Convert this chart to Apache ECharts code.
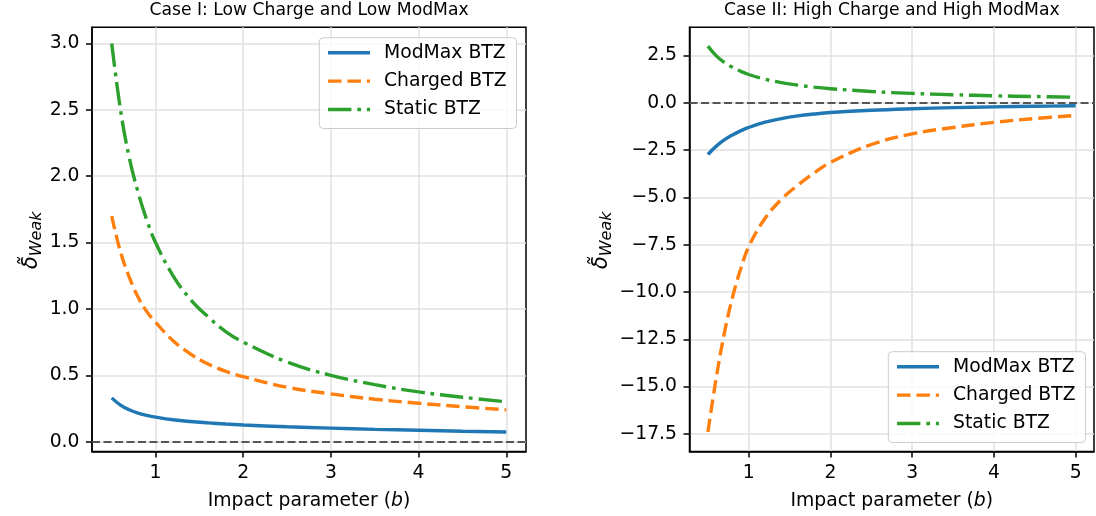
<!DOCTYPE html>
<html>
<head>
<meta charset="utf-8">
<script src="https://cdn.jsdelivr.net/npm/echarts@6.0.0/dist/echarts.min.js"></script>
<style>
  html, body { margin: 0; padding: 0; background: #fff; }
  #chart { width: 1096px; height: 516px; }
</style>
</head>
<body>
<div id="chart"></div>
<script>
// impact parameter samples
const impactB = [0.5, 0.6, 0.7, 0.8, 0.9, 1.0, 1.2, 1.4, 1.6, 1.8, 2.0, 2.5, 3.0, 3.5, 4.0, 4.5, 5.0];

// Case I: low charge, low ModMax
const modmaxLow  = [0.33, 0.275, 0.24, 0.215, 0.198, 0.185, 0.165, 0.152, 0.142, 0.133, 0.126, 0.112, 0.102, 0.093, 0.086, 0.079, 0.073];
const chargedLow = [1.70, 1.43, 1.24, 1.09, 0.98, 0.90, 0.76, 0.66, 0.585, 0.53, 0.49, 0.41, 0.36, 0.32, 0.29, 0.263, 0.24];
// static BTZ is the same in both panels
const staticBTZ  = [3.0, 2.5, 2.14, 1.88, 1.67, 1.5, 1.25, 1.07, 0.94, 0.83, 0.75, 0.6, 0.5, 0.43, 0.375, 0.335, 0.3];

// Case II: high charge, high ModMax
const modmaxHigh  = [-2.73, -2.30, -1.96, -1.70, -1.48, -1.30, -1.02, -0.83, -0.69, -0.59, -0.51, -0.39, -0.31, -0.25, -0.21, -0.18, -0.15];
const chargedHigh = [-17.4, -14.6, -12.2, -10.3, -8.8, -7.6, -6.1, -5.1, -4.35, -3.7, -3.15, -2.2, -1.64, -1.3, -1.03, -0.83, -0.66];

const seriesNames = ['ModMax BTZ', 'Charged BTZ', 'Static BTZ'];
const titles = ['Case I: Low Charge and Low ModMax', 'Case II: High Charge and High ModMax'];
const xTicks = [1, 2, 3, 4, 5];
const yTicksLow = [0, 0.5, 1.0, 1.5, 2.0, 2.5, 3.0];
const yTicksHigh = [-17.5, -15, -12.5, -10, -7.5, -5, -2.5, 0, 2.5];

const font = 'DejaVu Sans';
const tickFont = 18.8;
const colors = ['#1f77b4', '#ff7f0e', '#2ca02c'];
const dashes = ['solid', [13.5, 5.9], [23.4, 5.9, 3.7, 5.9]];

const pairs = ys => impactB.map((b, i) => [b, ys[i]]);
const fmtY = v => (v < 0 ? '\u2212' : '') + Math.abs(v).toFixed(1);

function xAxisFor(gi) {
    return {
        type: 'value', gridIndex: gi, min: 0.275, max: 5.225,
        name: '{n|Impact parameter (}{i|b}{n|)}',
        nameLocation: 'middle', nameGap: 39,
        nameTextStyle: {
            rich: {
                n: { fontFamily: font, fontSize: tickFont, color: '#000', lineHeight: 22 },
                i: { fontFamily: font, fontSize: tickFont, color: '#000', lineHeight: 22, fontStyle: 'italic' }
            }
        },
        axisLine: { show: true, onZero: false, lineStyle: { color: '#000', width: 1.5 } },
        axisTick: { show: true, length: 6, customValues: xTicks, lineStyle: { color: '#000', width: 1.5 } },
        axisLabel: { customValues: xTicks, margin: 11, fontFamily: font, fontSize: tickFont, color: '#000', lineHeight: 22 },
        splitLine: { show: true, lineStyle: { color: '#e0e0e0', width: 1.5 } }
    };
}

function yAxisFor(gi, min, max, ticks) {
    return {
        type: 'value', gridIndex: gi, min, max,
        axisLine: { show: true, onZero: false, lineStyle: { color: '#000', width: 1.5 } },
        axisTick: { show: true, length: 6, customValues: ticks, lineStyle: { color: '#000', width: 1.5 } },
        axisLabel: { customValues: ticks, margin: 12.5, fontFamily: font, fontSize: tickFont, color: '#000', formatter: fmtY },
        splitLine: { show: true, lineStyle: { color: '#e0e0e0', width: 1.5 } }
    };
}

function curve(k, ys, gi) {
    return {
        type: 'line', name: seriesNames[k], xAxisIndex: gi, yAxisIndex: gi,
        data: pairs(ys), symbol: 'none', showSymbol: false,
        smooth: 0.4,
        lineStyle: { color: colors[k], width: 3.4, type: dashes[k], cap: 'butt' },
        itemStyle: { color: colors[k] },
        z: 3 + k
    };
}

function zeroLine() {
    return {
        silent: true, symbol: ['none', 'none'], label: { show: false },
        lineStyle: { color: '#555', width: 2, type: [8, 3.5] },
        data: [{ yAxis: 0 }], animation: false
    };
}

function legendAt(left, top) {
    return {
        orient: 'vertical', left, top, data: seriesNames,
        itemWidth: 42, itemHeight: 14, itemGap: 6.4,
        padding: [4, 10, 8, 7],
        backgroundColor: 'rgba(255,255,255,0.8)', borderColor: '#cccccc', borderWidth: 1, borderRadius: 4,
        itemStyle: { opacity: 0 },
        lineStyle: { width: 3.4 },
        textStyle: { fontFamily: font, fontSize: tickFont, color: '#000', lineHeight: 22, padding: [0, 0, 0, 9] },
        selectedMode: false
    };
}

function titleText(x, text) {
    return {
        type: 'text', x, y: 10.5, silent: true,
        style: { text, font: '17.2px "DejaVu Sans"', fill: '#000',
                 align: 'center', verticalAlign: 'middle' }
    };
}

function yLabel(x, y) {
    return {
        type: 'text', x, y, rotation: Math.PI / 2, silent: true,
        style: {
            text: '{d|\u03B4\u0303}{w|Weak}',
            align: 'center', verticalAlign: 'bottom',
            rich: {
                d: { font: 'italic 21px "DejaVu Sans"', fill: '#000', lineHeight: 26 },
                w: { font: 'italic 16px "DejaVu Sans"', fill: '#000', lineHeight: 16, verticalAlign: 'bottom' }
            }
        }
    };
}

const grids = [
    { left: 92, top: 27.3, width: 434, height: 426 },
    { left: 689.5, top: 27.3, width: 404.5, height: 426 }
];

const seriesLow = [curve(0, modmaxLow, 0), curve(1, chargedLow, 0), curve(2, staticBTZ, 0)];
const seriesHigh = [curve(0, modmaxHigh, 1), curve(1, chargedHigh, 1), curve(2, staticBTZ, 1)];
seriesLow[0].markLine = zeroLine();
seriesHigh[0].markLine = zeroLine();

const chart = echarts.init(document.getElementById('chart'), null, { renderer: 'canvas' });
chart.setOption({
    animation: false,
    backgroundColor: '#fff',
    grid: grids.map(g => ({ ...g, show: true, borderColor: '#000', borderWidth: 1.5, backgroundColor: 'transparent', containLabel: false })),
    xAxis: [xAxisFor(0), xAxisFor(1)],
    yAxis: [yAxisFor(0, -0.074, 3.122, yTicksLow), yAxisFor(1, -18.43, 3.995, yTicksHigh)],
    legend: [legendAt(319.3, 37.7), legendAt(888.3, 351.7)],
    graphic: [
        titleText(309, titles[0]),
        titleText(891.8, titles[1]),
        yLabel(45, 240.3),
        yLabel(615, 240.3)
    ],
    series: [...seriesLow, ...seriesHigh]
});
</script>
</body>
</html>
